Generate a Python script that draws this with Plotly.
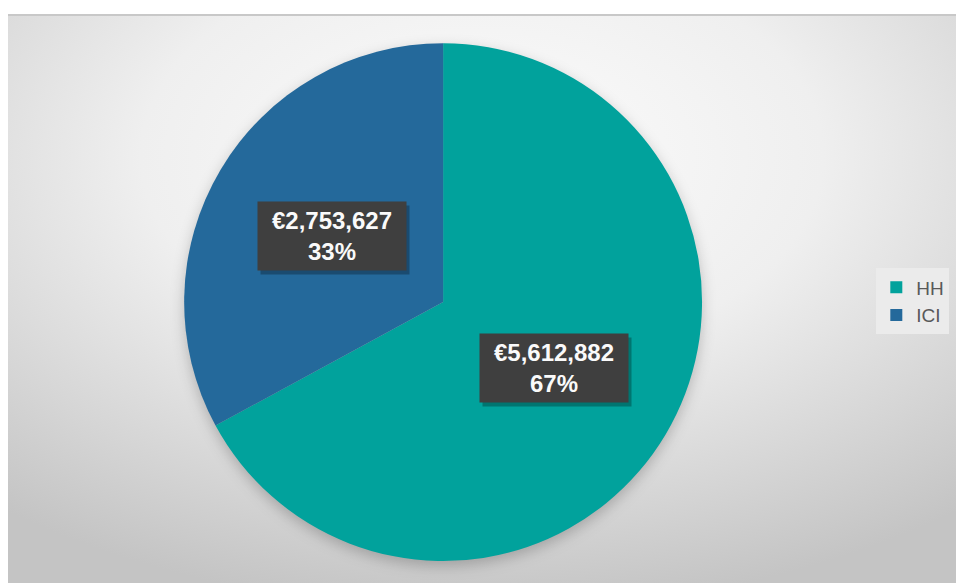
import math
import base64
import plotly.graph_objects as go

# ---- data ----
categories = ["HH", "ICI"]
values = [5612882, 2753627]
colors = ["#01A29C", "#24699B"]

W, H = 956, 583
# pie domain (paper fractions)
dom_x = [0.1925, 0.7345]
dom_y = [0.0377, 0.926]

fig = go.Figure()
fig.add_trace(go.Pie(
    labels=categories, values=values, sort=False, direction="clockwise",
    rotation=0, marker=dict(colors=colors, line=dict(width=0)),
    textinfo="none", domain=dict(x=dom_x, y=dom_y), hole=0,
    showlegend=True,
))

# data label annotations positioned from the slice angles
total = sum(values)
cx = (dom_x[0] + dom_x[1]) / 2 * W
cy = (1 - (dom_y[0] + dom_y[1]) / 2) * H
R = min((dom_x[1] - dom_x[0]) * W, (dom_y[1] - dom_y[0]) * H) / 2
cum = 0
annotations = []
for lab, v in zip(categories, values):
    mid = (cum + v / 2) / total * 2 * math.pi
    cum += v
    f = 0.5
    px = cx + f * R * math.sin(mid)
    py = cy - f * R * math.cos(mid)
    pct = round(v / total * 100)
    # soft shadow behind label box
    annotations.append(dict(
        x=px / W + 3 / W, y=1 - py / H - 4 / H, xref="paper", yref="paper",
        text="", showarrow=False, width=140, height=60,
        bgcolor="rgba(0,0,0,0.28)", borderpad=4,
    ))
    annotations.append(dict(
        x=px / W, y=1 - py / H, xref="paper", yref="paper",
        text=f"<b>€{v:,}<br>{pct}%</b>", showarrow=False,
        font=dict(family="Liberation Sans, Arial", size=24, color="#FAFAFA"),
        bgcolor="#3F3F3F", borderpad=6, align="center", width=136, height=56,
    ))

# radial gradient background for chart area, with soft pie shadow
pcx, pcy = cx - 8, cy - 14
svg = f"""<svg xmlns='http://www.w3.org/2000/svg' width='948' height='569' preserveAspectRatio='none'>
<defs><radialGradient id='g' cx='50%' cy='25%' r='80%'>
<stop offset='0%' stop-color='#FCFCFC'/>
<stop offset='45%' stop-color='#EFEFEF'/>
<stop offset='100%' stop-color='#C4C4C4'/>
</radialGradient>
<filter id='b' x='-20%' y='-20%' width='140%' height='140%'><feGaussianBlur stdDeviation='7'/></filter></defs>
<rect width='948' height='569' fill='url(#g)'/>
<rect x='0' y='0' width='948' height='2' fill='#C8C8C8'/>
<circle cx='{pcx:.1f}' cy='{pcy + 5:.1f}' r='{R:.1f}' fill='black' fill-opacity='0.22' filter='url(#b)'/>
</svg>"""
src = "data:image/svg+xml;base64," + base64.b64encode(svg.encode()).decode()

fig.update_layout(
    width=W, height=H,
    margin=dict(l=0, r=0, t=0, b=0),
    paper_bgcolor="white",
    images=[dict(source=src, xref="paper", yref="paper", x=8 / W, y=1 - 14 / H,
                 sizex=1 - 8 / W, sizey=1 - 14 / H, xanchor="left", yanchor="top",
                 sizing="stretch", layer="below")],
    annotations=annotations,
    legend=dict(x=0.993, y=0.483, xanchor="right", yanchor="middle",
                bgcolor="#EBEBEB", font=dict(family="Liberation Sans, Arial", size=19, color="#595959"),
                itemwidth=30, borderwidth=0),
)

fig.write_html("out.html", config={"displayModeBar": False},
               post_script="document.body.style.margin='0';document.body.style.overflow='hidden';")
